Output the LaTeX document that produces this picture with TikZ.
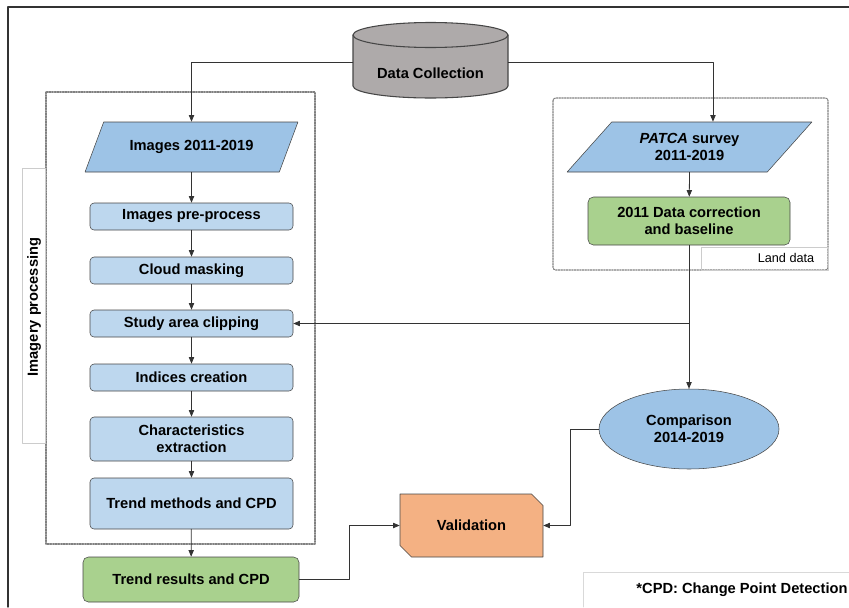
\documentclass[tikz,border=0pt]{standalone}
\usepackage{fontspec}
\setmainfont{Liberation Sans}
\usetikzlibrary{arrows.meta}
\usetikzlibrary{shapes.geometric}
\usetikzlibrary{shapes.misc}
\definecolor{boxblue}{RGB}{189,215,238}
\definecolor{darkblue}{RGB}{157,195,230}
\definecolor{boxgreen}{RGB}{169,209,142}
\definecolor{boxorange}{RGB}{244,177,131}
\definecolor{cylgray}{RGB}{174,170,170}
\definecolor{edgegray}{RGB}{70,70,70}

\begin{document}
\begin{tikzpicture}[line cap=round,line join=round,>={Triangle[length=5pt,width=4pt]},x=0.75pt,y=0.75pt,
  every node/.style={font=\fontsize{11}{13}\selectfont\bfseries,inner sep=1pt,align=center},
  procbox/.style={draw=edgegray,fill=boxblue,rounded corners=3pt,minimum width=152.25pt,minimum height=20.25pt},
  resbox/.style={draw=edgegray,fill=boxgreen,rounded corners=4pt},
  databox/.style={draw=edgegray,fill=darkblue,trapezium,trapezium stretches=true,minimum height=37.5pt},
  grpline/.style={draw=gray,dash pattern=on 1.2pt off 0.8pt,line width=0.8pt},
  conn/.style={->,draw=black!80,line width=0.6pt}]
\useasboundingbox (0,0) rectangle (849,-607);
\draw[line width=1pt,black!80] (849,-7) -- (8,-7) -- (8,-607);
\draw[grpline] (46,-92) rectangle (315,-544);
\draw[grpline,rounded corners=2pt] (553,-98) rectangle (828,-270);
\draw[gray!40,line width=0.5pt] (22,-168) rectangle (45,-443);
\draw[gray!40,line width=0.5pt] (701,-247) rectangle (828,-270);
\draw[gray!30,line width=0.5pt] (583,-607) -- (583,-572) -- (849,-572);
\filldraw[draw=edgegray,fill=cylgray,line width=0.8pt] (353,-35) -- (353,-86) arc[start angle=180,end angle=360,x radius=77.5,y radius=12] -- (508,-35) arc[start angle=0,end angle=180,x radius=77.5,y radius=12.5] -- cycle;
\draw[edgegray,line width=0.8pt] (353,-35) arc[start angle=180,end angle=360,x radius=77.5,y radius=12.5];
\node[minimum width=116.25pt] (dc) at (430.5,-73) {Data Collection};
\node[databox,trapezium left angle=50,trapezium right angle=130,minimum width=159.75pt] (img) at (191.5,-147) {Images 2011-2019};
\node[databox,trapezium left angle=46,trapezium right angle=134,minimum width=183.75pt] (patca) at (689.5,-147) {\textit{PATCA} survey\\2011-2019};
\node[procbox] (pre) at (191.5,-216.5) {Images pre-process};
\node[procbox] (cloud) at (191.5,-270.5) {Cloud masking};
\node[procbox] (clip) at (191.5,-323.5) {Study area clipping};
\node[procbox] (ind) at (191.5,-377.5) {Indices creation};
\node[procbox,minimum height=33pt] (char) at (191.5,-439) {Characteristics\\extraction};
\node[procbox,minimum height=38.25pt] (trend) at (191.5,-503.5) {Trend methods and CPD};
\node[resbox,minimum width=162pt,minimum height=33.75pt] (res) at (191,-579.5) {Trend results and CPD};
\node[resbox,minimum width=151.5pt,minimum height=36pt] (dcor) at (689,-221) {2011 Data correction\\and baseline};
\node[draw=edgegray,fill=darkblue,ellipse,minimum width=135pt,minimum height=60pt] (comp) at (689,-429) {Comparison\\2014-2019};
\node[draw=edgegray,fill=boxorange,chamfered rectangle,chamfered rectangle corners={north east,south west},chamfered rectangle xsep=8pt,minimum width=107.25pt,minimum height=47.25pt] (val) at (471.5,-525.5) {Validation};
\node[rotate=90] (lblimg) at (34,-307) {Imagery processing};
\node[font=\fontsize{9.5}{11}\selectfont] (lblland) at (786,-258) {Land data};
\node (note) at (742,-590) {*CPD: Change Point Detection};
\draw[conn] ([yshift=8.25pt]dc.west) -| (img.north);
\draw[conn] ([yshift=8.25pt]dc.east) -| ([xshift=17.6pt]patca.north);
\draw[conn] (img.south) -- (pre);
\draw[conn] (pre) -- (cloud);
\draw[conn] (cloud) -- (clip);
\draw[conn] (clip) -- (ind);
\draw[conn] (ind) -- (char);
\draw[conn] (char) -- (trend);
\draw[conn] (trend) -- (res);
\draw[conn] (patca.south) -- (dcor);
\draw[conn] (dcor) -- (comp);
\draw[conn] (dcor.south |- clip.east) -- (clip.east);
\draw[conn] (res.east) -- ++(50,0) |- (val.west);
\draw[conn] (comp.west) -- ++(-28,0) |- (val.east);
\end{tikzpicture}
\end{document}
